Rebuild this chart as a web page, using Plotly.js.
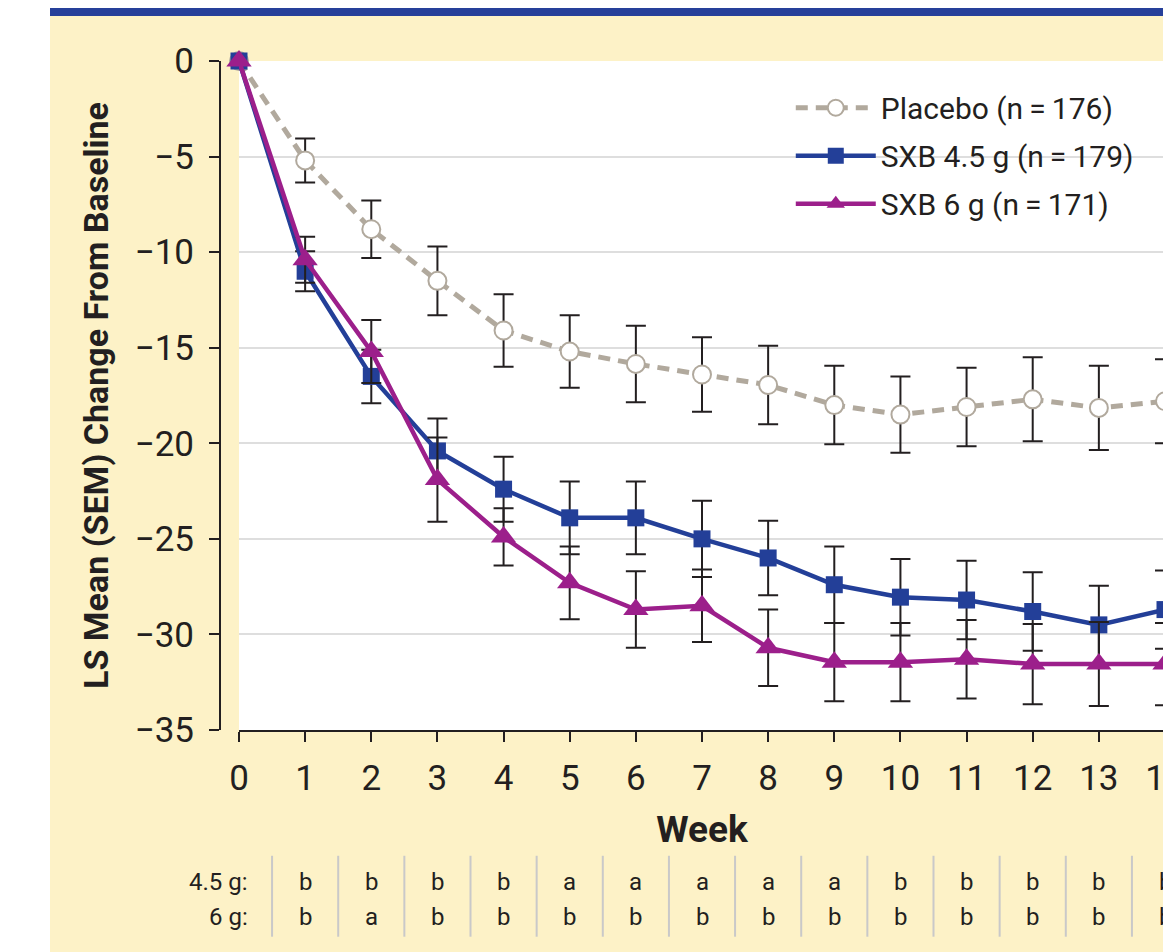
<!DOCTYPE html>
<html><head><meta charset="utf-8">
<script src="https://cdn.plot.ly/plotly-3.0.1.min.js"></script>
<style>
html,body{margin:0;padding:0;background:#fff;overflow:hidden;width:1163px;height:952px;}
#band{position:absolute;left:50px;top:8px;width:1200px;height:8px;background:#26409a;}
#chart{position:absolute;left:50px;top:16px;width:1175px;height:936px;}
</style></head><body>
<div id="band"></div><div id="chart"></div>
<script>
const weeks = [0,1,2,3,4,5,6,7,8,9,10,11,12,13,14];
const placebo    = [0,-5.2,-8.8,-11.5,-14.1,-15.2,-15.85,-16.4,-16.95,-18.0,-18.5,-18.1,-17.7,-18.15,-17.8];
const placeboSem = [NaN,1.15,1.5,1.8,1.9,1.9,2.0,1.95,2.05,2.05,2.0,2.05,2.2,2.2,2.2];
const sxb45      = [0,-11.0,-16.5,-20.4,-22.4,-23.9,-23.9,-25.0,-26.0,-27.4,-28.05,-28.2,-28.8,-29.5,-28.7];
const sxb45Sem   = [NaN,1.05,1.4,1.7,1.7,1.9,1.9,2.0,1.95,2.0,2.0,2.05,2.05,2.05,2.05];
const sxb6       = [0,-10.4,-15.2,-21.9,-24.9,-27.3,-28.7,-28.5,-30.7,-31.45,-31.45,-31.3,-31.55,-31.55,-31.55];
const sxb6Sem    = [NaN,1.2,1.65,2.2,1.5,1.9,2.0,1.9,2.0,2.05,2.05,2.05,2.1,2.2,2.15];
const seriesNames = ['Placebo (n\u2009=\u2009176)','SXB 4.5 g (n\u2009=\u2009179)','SXB 6 g (n\u2009=\u2009171)'];
const sig45 = ['b','b','b','b','a','a','a','a','a','b','b','b','b','b'];
const sig6  = ['b','a','b','b','b','b','b','b','b','b','b','b','b','b'];
const rowLabels = ['4.5 g:','6 g:'];

const FONT = '"Liberation Sans Narrow","Roboto",sans-serif';
const INK = '#231f20';
function eb(arr){return {type:'data',array:arr,visible:true,color:INK,thickness:2,width:10};}

const traces = [
 {x:weeks,y:placebo,name:seriesNames[0],legendgroup:'p',mode:'lines+markers',cliponaxis:false,
  line:{color:'#b1a99d',width:5,dash:'12px,8px'},
  marker:{symbol:'circle',size:18,color:'#ffffff',line:{color:'#b1a99d',width:2}},error_y:eb(placeboSem)},
 {x:weeks,y:sxb45,name:seriesNames[1],legendgroup:'a',mode:'lines+markers',cliponaxis:false,
  line:{color:'#233f98',width:4.5},
  marker:{symbol:'square',size:17,color:'#233f98'},error_y:eb(sxb45Sem)},
 {x:weeks,y:sxb6,name:seriesNames[2],legendgroup:'b',mode:'lines+markers',cliponaxis:false,
  line:{color:'#9c1f8b',width:4.5},
  marker:{symbol:'triangle-up',size:22,color:'#9c1f8b'},error_y:eb(sxb6Sem)}
];

const ann = [];
const rowY = [-0.227,-0.2795];
[sig45,sig6].forEach((row,r)=>{
  row.forEach((t,i)=>ann.push({x:weeks[i+1],y:rowY[r],xref:'x',yref:'paper',text:t,showarrow:false,
    font:{family:FONT,size:24,color:INK},xanchor:'center',yanchor:'middle'}));
  ann.push({x:0.17,y:rowY[r],xref:'x',yref:'paper',text:rowLabels[r],showarrow:false,
    font:{family:FONT,size:24,color:INK},xanchor:'right',yanchor:'middle'});
});
const shapes = weeks.slice(1).map(w=>({type:'line',xref:'x',yref:'paper',x0:w-0.5,x1:w-0.5,y0:-0.188,y1:-0.309,
  line:{color:'#c9c9c9',width:2}}));

const layout = {
  width:1175,height:936,margin:{l:170,r:60,t:45,b:222},
  paper_bgcolor:'#fdf2c7',plot_bgcolor:'#ffffff',
  font:{family:FONT,color:INK},
  showlegend:true,
  legend:{x:0.604,y:0.969,xanchor:'left',yanchor:'top',bgcolor:'rgba(0,0,0,0)',
    font:{family:FONT,size:30,color:INK},itemwidth:80,tracegroupgap:6},
  xaxis:{domain:[19/945,1],range:[0,14],tickvals:weeks,showline:true,linecolor:INK,linewidth:2,
    ticks:'outside',ticklen:10,tickwidth:2,tickcolor:INK,tickfont:{family:FONT,size:35,color:INK},
    showgrid:false,zeroline:false,ticklabelstandoff:6,
    title:{text:'<b>Week</b>',font:{family:FONT,size:37,color:INK},standoff:18}},
  yaxis:{anchor:'free',position:0,range:[-35,0],tick0:0,dtick:5,showline:true,linecolor:INK,linewidth:2,
    ticks:'outside',ticklen:10,tickwidth:2,tickcolor:INK,tickfont:{family:FONT,size:35,color:INK},
    showgrid:true,gridcolor:'#dedede',gridwidth:2,zeroline:false,ticklabelstandoff:8,
    title:{text:'<b>LS Mean (SEM) Change From Baseline</b>',font:{family:FONT,size:34,color:INK},standoff:15}},
  annotations:ann,shapes:shapes
};
Plotly.newPlot('chart',traces,layout,{displayModeBar:false,staticPlot:true});
</script></body></html>
